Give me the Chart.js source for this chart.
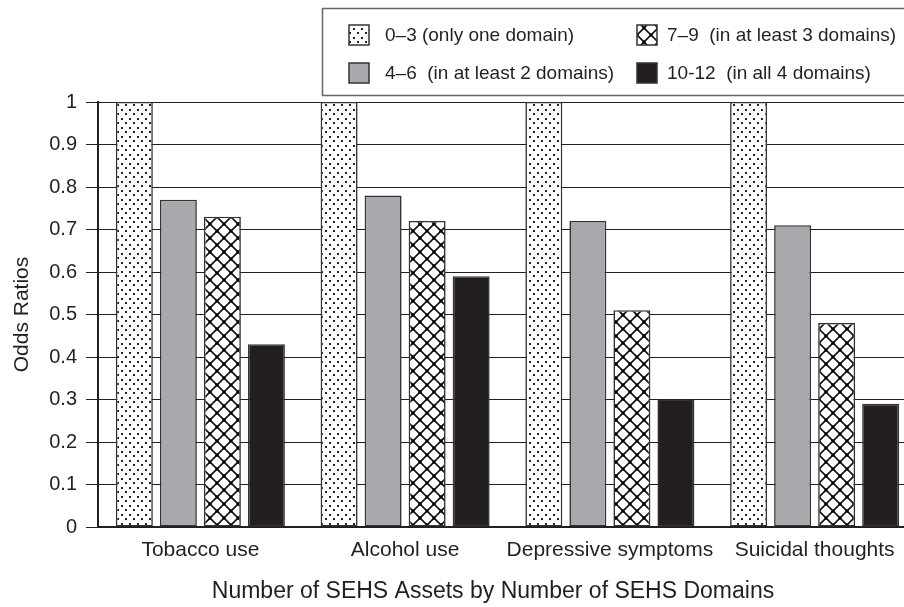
<!DOCTYPE html>
<html lang="en">
<head>
  <meta charset="UTF-8">
  <title>Odds Ratios by SEHS Assets</title>
  <script src="https://cdn.jsdelivr.net/npm/chart.js"></script>
  <style>
    html, body { margin: 0; padding: 0; background: #fff; overflow: hidden; }
    .chart-box { width: 918px; height: 607px; }
  </style>
</head>
<body>

<div class="chart-box">
  <canvas id="oddsChart"></canvas>
</div>

<script>
  // Data
  const categories = ['Tobacco use', 'Alcohol use', 'Depressive symptoms', 'Suicidal thoughts'];
  const seriesNames = [
    '0\u20133 (only one domain)',
    '4\u20136  (in at least 2 domains)',
    '7\u20139  (in at least 3 domains)',
    '10-12  (in all 4 domains)'
  ];
  const oneDomain = [1, 1, 1, 1];
  const twoDomains = [0.77, 0.78, 0.72, 0.71];
  const threeDomains = [0.73, 0.72, 0.51, 0.48];
  const allDomains = [0.43, 0.59, 0.30, 0.29];
  const xTitle = 'Number of SEHS Assets by Number of SEHS Domains';

  const ink = '#231f20';
  const fontFamily = "'Liberation Sans', Arial, sans-serif";

  // Small tiles for the dotted and diamond fills
  function dotPattern() {
    const c = document.createElement('canvas');
    c.width = 8; c.height = 9;
    const g = c.getContext('2d');
    g.fillStyle = '#fff';
    g.fillRect(0, 0, 8, 9);
    g.fillStyle = '#222';
    g.fillRect(1, 1, 2, 2);
    g.fillRect(5, 5, 2, 2);
    return g.createPattern(c, 'repeat');
  }

  function diamondPattern() {
    const s = 14;
    const c = document.createElement('canvas');
    c.width = s; c.height = s;
    const g = c.getContext('2d');
    g.fillStyle = '#fff';
    g.fillRect(0, 0, s, s);
    g.strokeStyle = '#111';
    g.lineWidth = 1.6;
    g.beginPath();
    g.moveTo(0, 0); g.lineTo(s, s);
    g.moveTo(s, 0); g.lineTo(0, s);
    g.stroke();
    g.fillStyle = '#000';
    g.fillRect(s / 2 - 1.5, s / 2 - 1.5, 3, 3);
    g.fillRect(0, 0, 1.5, 1.5); g.fillRect(s - 1.5, 0, 1.5, 1.5);
    g.fillRect(0, s - 1.5, 1.5, 1.5); g.fillRect(s - 1.5, s - 1.5, 1.5, 1.5);
    return g.createPattern(c, 'repeat');
  }

  const fills = [dotPattern(), '#a7a9ac', diamondPattern(), ink];

  // Legend box in two columns (column-major like the figure) + x axis title
  const boxLegend = {
    id: 'boxLegend',
    afterDraw(chart) {
      const ctx = chart.ctx;
      ctx.save();
      ctx.strokeStyle = '#666';
      ctx.lineWidth = 1.5;
      ctx.strokeRect(322.5, 8.5, 640, 87);
      const spots = [[349, 35, 385], [349, 73, 385], [637, 35, 667], [637, 73, 667]];
      ctx.font = '19px ' + fontFamily;
      ctx.textBaseline = 'middle';
      ctx.textAlign = 'left';
      chart.data.datasets.forEach((ds, i) => {
        const [x, y, tx] = spots[i];
        ctx.fillStyle = ds.backgroundColor;
        ctx.fillRect(x, y - 10, 20, 20);
        ctx.strokeStyle = '#333';
        ctx.lineWidth = 1.5;
        ctx.strokeRect(x, y - 10, 20, 20);
        ctx.fillStyle = ink;
        ctx.fillText(ds.label, tx, y + 1);
      });

      // axis title sits a little left of the (cropped) axis centre in the figure
      ctx.font = '23px ' + fontFamily;
      ctx.textAlign = 'center';
      ctx.fillText(xTitle, 493, 592);
      ctx.restore();
    }
  };

  const ctx = document.getElementById('oddsChart').getContext('2d');
  const seriesValues = [oneDomain, twoDomains, threeDomains, allDomains];

  const oddsChart = new Chart(ctx, {
    type: 'bar',
    data: {
      labels: categories,
      datasets: seriesValues.map((vals, i) => ({
        label: seriesNames[i],
        data: vals,
        backgroundColor: fills[i],
        borderColor: '#333',
        borderWidth: 1.6,
        borderSkipped: false,
        categoryPercentage: 0.86,
        barPercentage: 0.84
      }))
    },
    options: {
      responsive: true,
      maintainAspectRatio: false,
      animation: false,
      layout: { padding: { top: 102, right: 1, left: 0, bottom: 0 } },
      plugins: {
        legend: { display: false },
        tooltip: { enabled: false }
      },
      scales: {
        x: {
          grid: { display: false, drawTicks: false },
          border: { display: true, color: ink, width: 2 },
          ticks: {
            color: ink,
            padding: 11,
            autoSkip: false,
            maxRotation: 0,
            minRotation: 0,
            font: { family: fontFamily, size: 21 }
          },
          afterFit: (scale) => { scale.height = 80; }
        },
        y: {
          min: 0,
          max: 1,
          grid: { color: ink, lineWidth: 1, tickLength: 12 },
          border: { display: true, color: ink, width: 2 },
          ticks: {
            stepSize: 0.1,
            padding: 9,
            color: ink,
            font: { family: fontFamily, size: 20 },
            callback: (v) => String(Number(v.toFixed(1)))
          },
          title: {
            display: true,
            text: 'Odds Ratios',
            color: ink,
            font: { family: fontFamily, size: 21 },
            padding: { top: 10, bottom: 4 }
          },
          afterFit: (scale) => { scale.width = 98; }
        }
      }
    },
    plugins: [boxLegend]
  });
</script>
</body>
</html>
